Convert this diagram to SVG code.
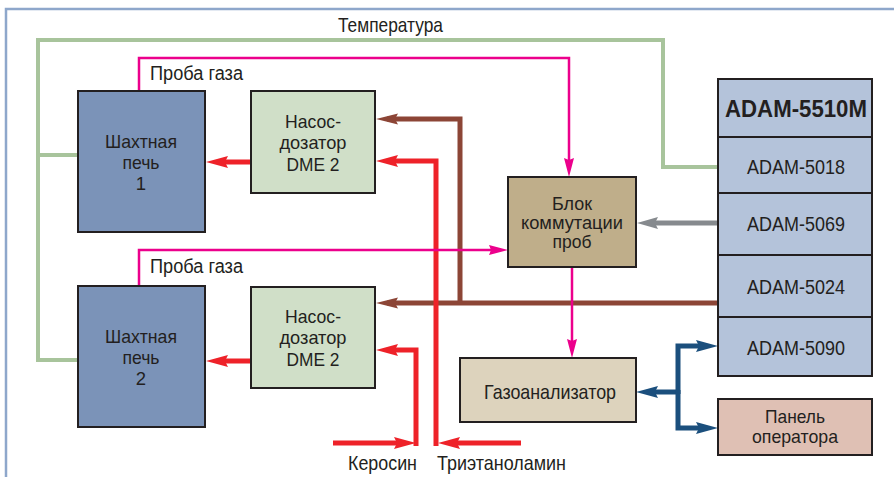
<svg xmlns="http://www.w3.org/2000/svg" width="894" height="477" viewBox="0 0 894 477">
<defs>
<style>
text{font-family:"Liberation Sans",Arial,sans-serif;fill:#231f20;font-size:19px;text-anchor:middle}
.s18{font-size:18.5px}
.s17{font-size:17.5px}
.s20{font-size:20px}
.s21{font-size:21px}
.box{stroke:#231f20;stroke-width:2}
.ln{fill:none;stroke-linejoin:miter;stroke-linecap:butt}
.red{stroke:#ee2229;stroke-width:5}
.brn{stroke:#8c4536;stroke-width:5}
.pnk{stroke:#ec008c;stroke-width:2.5}
.gry{stroke:#868a8e;stroke-width:5}
.blu{stroke:#1b4f7d;stroke-width:5}
.grn{stroke:#a8c49c;stroke-width:4}
</style>
<marker id="aR" markerUnits="userSpaceOnUse" markerWidth="22" markerHeight="12" refX="11" refY="6" orient="auto" overflow="visible"><path d="M0,0 L22,6 L0,12 L3,6 z" fill="#ee2229"/></marker>
<marker id="aB" markerUnits="userSpaceOnUse" markerWidth="22" markerHeight="12" refX="11" refY="6" orient="auto" overflow="visible"><path d="M0,0.5 L22,6 L0,11.5 L3,6 z" fill="#8c4536"/></marker>
<marker id="aP" markerUnits="userSpaceOnUse" markerWidth="19" markerHeight="10" refX="9.5" refY="5" orient="auto" overflow="visible"><path d="M0,0 L19,5 L0,10 L2,5 z" fill="#ec008c"/></marker>
<marker id="aG" markerUnits="userSpaceOnUse" markerWidth="21" markerHeight="12" refX="10.5" refY="6" orient="auto" overflow="visible"><path d="M0,0 L21,6 L0,12 L3,6 z" fill="#868a8e"/></marker>
<marker id="aU" markerUnits="userSpaceOnUse" markerWidth="22" markerHeight="12" refX="11" refY="6" orient="auto" overflow="visible"><path d="M0,0 L22,6 L0,12 L3,6 z" fill="#1b4f7d"/></marker>
</defs>
<rect width="894" height="477" fill="#ffffff"/>
<path d="M6,477 V9 H894" fill="none" stroke="#8ea7cb" stroke-width="2.5"/>
<text class="s21" x="390.5" y="31.5" textLength="105" lengthAdjust="spacingAndGlyphs">Температура</text>
<text class="s20" x="196.5" y="80" textLength="93" lengthAdjust="spacingAndGlyphs">Проба газа</text>
<text class="s20" x="196.5" y="273" textLength="93" lengthAdjust="spacingAndGlyphs">Проба газа</text>
<text class="s21" x="382.5" y="470" textLength="69" lengthAdjust="spacingAndGlyphs">Керосин</text>
<text class="s21" x="501.5" y="470" textLength="129" lengthAdjust="spacingAndGlyphs">Триэтаноламин</text>

<g id="connectors">
<path class="ln grn" d="M718,167 H663 V40 H38 V360 H78"/>
<path class="ln grn" d="M38,155 H78"/>
<path class="ln brn" d="M718,303 H387" marker-end="url(#aB)"/>
<path class="ln brn" d="M460,303 V119 H387" marker-end="url(#aB)"/>
<path class="ln red" d="M251,162 H217" marker-end="url(#aR)"/>
<path class="ln red" d="M251,361 H217" marker-end="url(#aR)"/>
<path class="ln red" d="M521,443 H449" marker-end="url(#aR)"/>
<path class="ln red" d="M436,446 V161 H387" marker-end="url(#aR)"/>
<path class="ln red" d="M333,443 H405" marker-end="url(#aR)"/>
<path class="ln red" d="M416,446 V350 H387" marker-end="url(#aR)"/>
<path class="ln pnk" d="M139,91 V58 H569 V167.5" marker-end="url(#aP)"/>
<path class="ln pnk" d="M139,286 V250 H498.5" marker-end="url(#aP)"/>
<path class="ln pnk" d="M572,267 V348.5" marker-end="url(#aP)"/>
<path class="ln gry" d="M718,223 H647.5" marker-end="url(#aG)"/>
<path class="ln blu" d="M678,392 H647" marker-end="url(#aU)"/>
<path class="ln blu" d="M678,394 V346 H707" marker-end="url(#aU)"/>
<path class="ln blu" d="M678,390 V428 H707" marker-end="url(#aU)"/>
</g>

<g id="furnace1"><rect class="box" x="78" y="91" width="127" height="141" fill="#7b93b8"/>
<text class="s18" x="141" y="148" textLength="72" lengthAdjust="spacingAndGlyphs">Шахтная</text><text class="s18" x="141" y="169" textLength="37" lengthAdjust="spacingAndGlyphs">печь</text><text class="s18" x="141" y="190">1</text></g>
<g id="furnace2"><rect class="box" x="78" y="286" width="127" height="141" fill="#7b93b8"/>
<text class="s18" x="141" y="343" textLength="72" lengthAdjust="spacingAndGlyphs">Шахтная</text><text class="s18" x="141" y="364" textLength="37" lengthAdjust="spacingAndGlyphs">печь</text><text class="s18" x="141" y="385">2</text></g>
<g id="pump1"><rect class="box" x="251" y="91" width="124" height="102" fill="#d0dfc8"/>
<text class="s18" x="313" y="128" textLength="56" lengthAdjust="spacingAndGlyphs">Насос-</text><text class="s18" x="313" y="149" textLength="67" lengthAdjust="spacingAndGlyphs">дозатор</text><text class="s18" x="313" y="171" textLength="53" lengthAdjust="spacingAndGlyphs">DME 2</text></g>
<g id="pump2"><rect class="box" x="251" y="287" width="124" height="101" fill="#d0dfc8"/>
<text class="s18" x="313" y="323" textLength="56" lengthAdjust="spacingAndGlyphs">Насос-</text><text class="s18" x="313" y="344" textLength="67" lengthAdjust="spacingAndGlyphs">дозатор</text><text class="s18" x="313" y="366" textLength="53" lengthAdjust="spacingAndGlyphs">DME 2</text></g>
<g id="switch"><rect class="box" x="508" y="177" width="128" height="90" fill="#bfae8a"/>
<text class="s17" x="572" y="210" textLength="40" lengthAdjust="spacingAndGlyphs">Блок</text><text class="s17" x="572" y="229" textLength="102" lengthAdjust="spacingAndGlyphs">коммутации</text><text class="s17" x="572" y="247.5" textLength="39" lengthAdjust="spacingAndGlyphs">проб</text></g>
<g id="analyzer"><rect class="box" x="460" y="358" width="176" height="64" fill="#ddd3bd"/>
<text class="s21" x="550" y="399" textLength="132" lengthAdjust="spacingAndGlyphs">Газоанализатор</text></g>
<g id="adam"><rect class="box" x="718" y="79" width="154" height="297" fill="#b4c3da"/>
<path d="M718,137 H872 M718,193 H872 M718,255 H872 M718,317 H872" stroke="#231f20" stroke-width="2"/>
<text x="796" y="117" style="font-weight:bold;font-size:24px" textLength="142" lengthAdjust="spacingAndGlyphs">ADAM-5510M</text>
<text class="s20" x="796" y="174" textLength="98" lengthAdjust="spacingAndGlyphs">ADAM-5018</text>
<text class="s20" x="796" y="231" textLength="98" lengthAdjust="spacingAndGlyphs">ADAM-5069</text>
<text class="s20" x="796" y="294" textLength="98" lengthAdjust="spacingAndGlyphs">ADAM-5024</text>
<text class="s20" x="796" y="355" textLength="98" lengthAdjust="spacingAndGlyphs">ADAM-5090</text></g>
<g id="panel"><rect class="box" x="718" y="399" width="154" height="56" fill="#dfc0b4"/>
<text class="s18" x="795" y="423" textLength="60" lengthAdjust="spacingAndGlyphs">Панель</text><text class="s18" x="795" y="443" textLength="86" lengthAdjust="spacingAndGlyphs">оператора</text></g>
</svg>
